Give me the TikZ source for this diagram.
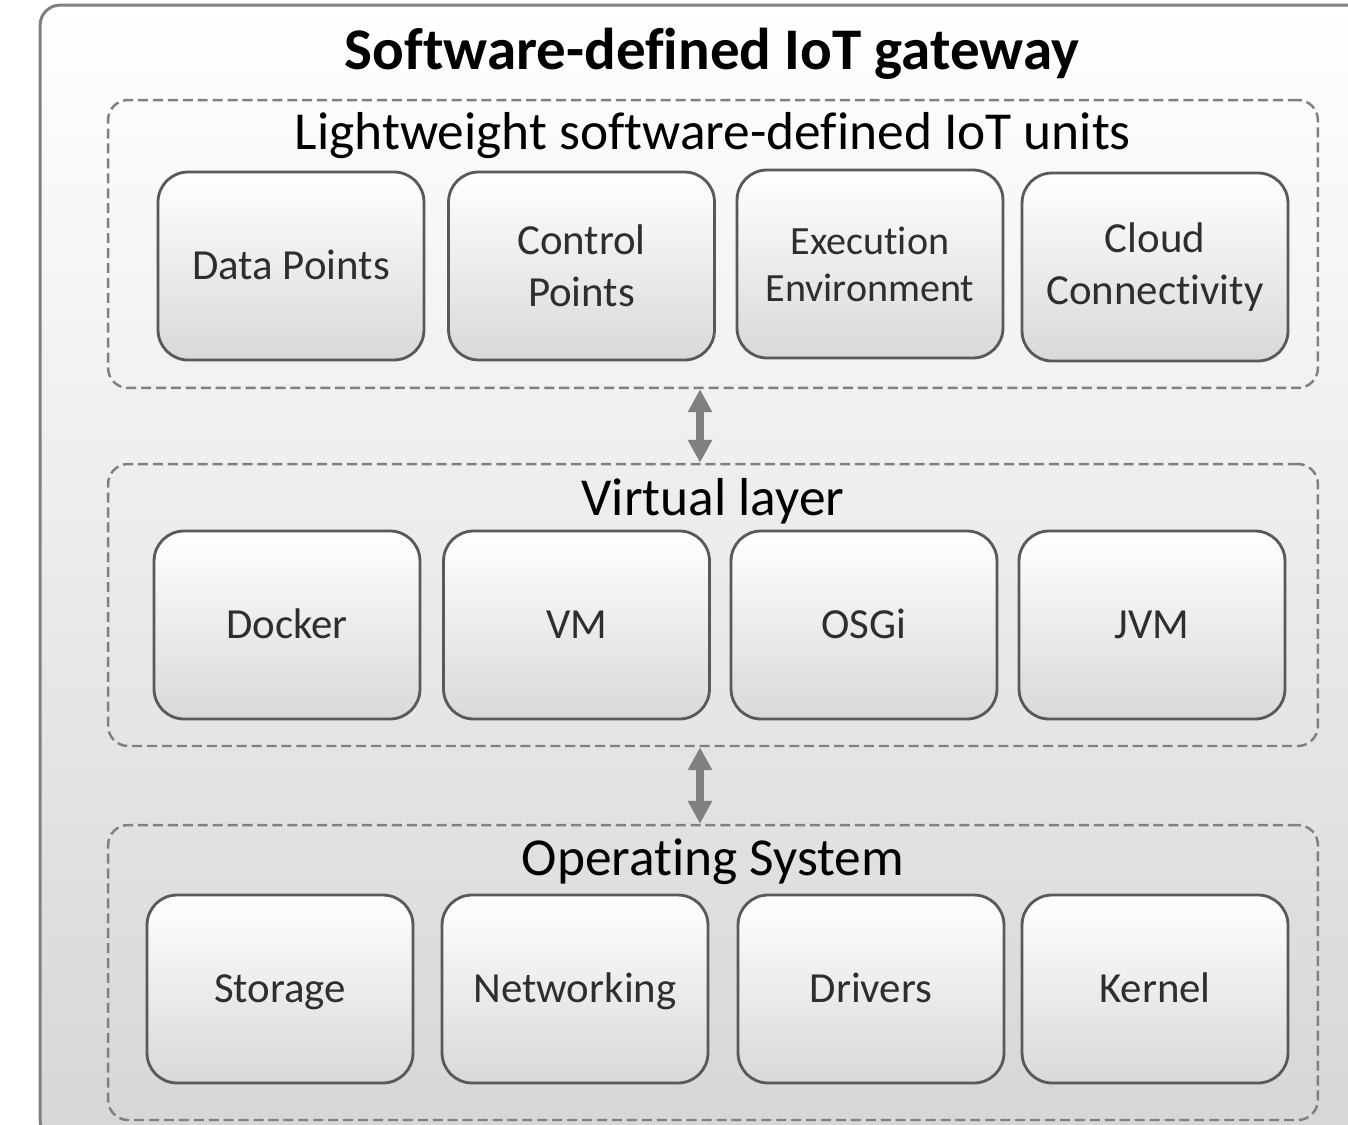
\documentclass[tikz,border=0pt]{standalone}
\usepackage{fontspec}
\setmainfont{Carlito}[Ligatures=NoCommon]
\usetikzlibrary{arrows.meta}

\begin{document}
\begin{tikzpicture}[x=0.02cm, y=-0.02cm]

\tikzset{gateway/.style = {draw=gray, line width=1.7pt, rounded corners=0.4cm, top color=white, bottom color=black!16, minimum width=26.8cm, minimum height=22.7cm}}
\tikzset{layer/.style = {draw=gray, dash pattern=on 5.7pt off 2.8pt, line width=1.4pt, rounded corners=0.4cm, minimum width=24.2cm}}
\tikzset{layertext/.style = {anchor=base, font=\fontsize{30.4}{32}\selectfont}}
\tikzset{unit/.style = {draw=black!65, line width=1.6pt, rounded corners=0.6cm, top color=white, bottom color=black!15, text=black!82, minimum width=5.32cm, minimum height=3.76cm, align=center, font=\fontsize{24.4}{29.5}\selectfont}}
\tikzset{oneline/.style = {text height=15.6pt, text depth=0pt}}
\tikzset{link/.style = {{Triangle[width=13pt,length=13pt]}-{Triangle[width=13pt,length=13pt]}, draw=gray, line width=4pt}}

\useasboundingbox (0,0) rectangle (1348,1125);
%gateway
\node[gateway] (gw) at (710,572.5) {};
\node[anchor=base, font=\fontsize{33.6}{35}\selectfont\bfseries] (title) at (712,70) {Software-defined IoT gateway};
%layers
\node[layer, minimum height=5.76cm] (units) at (713,244) {};
\node[layer, minimum height=5.64cm] (virtual) at (713,605) {};
\node[layer, minimum height=5.9cm] (os) at (713,972.5) {};
\node[layertext] (unitstext) at (713,150) {Lightweight software-defined IoT units};
\node[layertext] (virtualtext) at (713,515) {Virtual layer};
\node[layertext] (ostext) at (713,875) {Operating System};
%units
\node[unit, oneline] (dp) at (291,266) {Data Points};
\node[unit] (cp) at (581.5,266) {Control\\Points};
\node[unit, font=\fontsize{22.8}{26.6}\selectfont] (ee) at (870,264) {Execution\\Environment};
\node[unit] (cc) at (1155,267) {Cloud\\Connectivity};
\node[unit, oneline] (docker) at (287,625) {Docker};
\node[unit, oneline] (vm) at (576.5,625) {VM};
\node[unit, oneline] (osgi) at (864,625) {OSGi};
\node[unit, oneline] (jvm) at (1152,625) {JVM};
\node[unit, oneline] (storage) at (280,989) {Storage};
\node[unit, oneline] (net) at (575,989) {Networking};
\node[unit, oneline] (drivers) at (871,989) {Drivers};
\node[unit, oneline] (kernel) at (1155,989) {Kernel};
%arrows
\draw[link] ([xshift=-13*0.02cm]units.south) -- ([xshift=-13*0.02cm]virtual.north);
\draw[link] ([xshift=-13*0.02cm]virtual.south) -- ([xshift=-13*0.02cm]os.north);

\end{tikzpicture}
\end{document}
